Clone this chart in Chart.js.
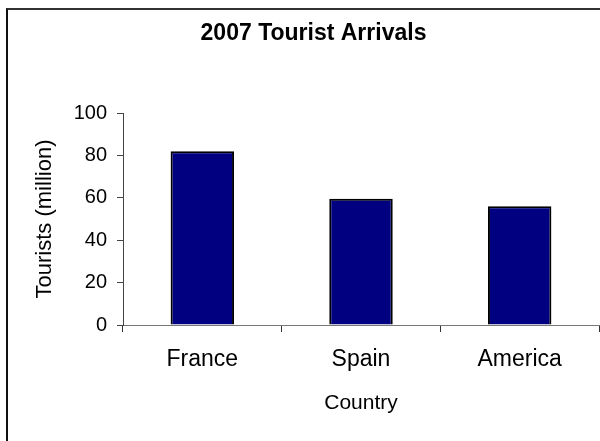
<!DOCTYPE html>
<html>
<head>
<meta charset="utf-8">
<script src="https://cdn.jsdelivr.net/npm/chart.js@4"></script>
<style>
  html, body { margin: 0; padding: 0; background: #fff; overflow: hidden; }
  #frame {
    position: absolute; left: 6px; top: 8px; width: 700px; height: 600px;
    border-top: 2px solid #333; border-left: 2px solid #111;
  }
  #tourists { position: absolute; left: 0; top: 0; }
</style>
</head>
<body>
<div id="frame"></div>
<canvas id="tourists" width="600" height="441"></canvas>
<script>
const countries = ["France", "Spain", "America"];
const arrivals = [82, 59.5, 56]; // million tourists, 2007
const yMin = 0;
const yMax = 100;
const yStep = 20;

const font = "Arial, 'Liberation Sans', sans-serif";

const ctx = document.getElementById("tourists");
const touristChart = new Chart(ctx, {
  type: "bar",
  data: {
    labels: countries,
    datasets: [
      {
        label: "Tourists (million)",
        data: arrivals,
        backgroundColor: "#000080",
        borderColor: "#000000",
        borderWidth: 2,
        barPercentage: 0.4,
        categoryPercentage: 1,
      },
    ],
  },
  options: {
    responsive: false,
    animation: false,
    layout: { padding: { left: 28, right: 1, top: 0, bottom: 0 } },
    plugins: {
      legend: { display: false },
      tooltip: { enabled: false },
      title: {
        display: true,
        text: "2007 Tourist Arrivals",
        color: "#000",
        font: { family: font, size: 23, weight: "bold", lineHeight: 1 },
        padding: { top: 22.5, bottom: 67.5 },
      },
    },
    scales: {
      x: {
        grid: {
          offset: true,
          drawOnChartArea: false,
          drawTicks: true,
          tickLength: 7,
          color: "#333",
        },
        border: { display: true, color: "#777", width: 1 },
        ticks: {
          color: "#000",
          padding: 14,
          font: { family: font, size: 23 },
        },
        title: {
          display: true,
          text: "Country",
          color: "#000",
          font: { family: font, size: 21, lineHeight: 1.2 },
          padding: { top: 0, bottom: 25.4 },
        },
        afterFit: (scale) => {
          scale.height = 116;
        },
      },
      y: {
        min: yMin,
        max: yMax,
        ticks: {
          stepSize: yStep,
          color: "#000",
          padding: 10,
          font: { family: font, size: 20 },
        },
        grid: {
          drawOnChartArea: false,
          drawTicks: true,
          tickLength: 6,
          color: "#444",
        },
        border: { display: true, color: "#444", width: 1 },
        title: {
          display: true,
          text: "Tourists (million)",
          color: "#000",
          font: { family: font, size: 22, lineHeight: 1.2 },
          padding: { top: 4, bottom: 0 },
        },
        afterFit: (scale) => {
          scale.width = 95;
        },
      },
    },
  },
});
</script>
</body>
</html>
